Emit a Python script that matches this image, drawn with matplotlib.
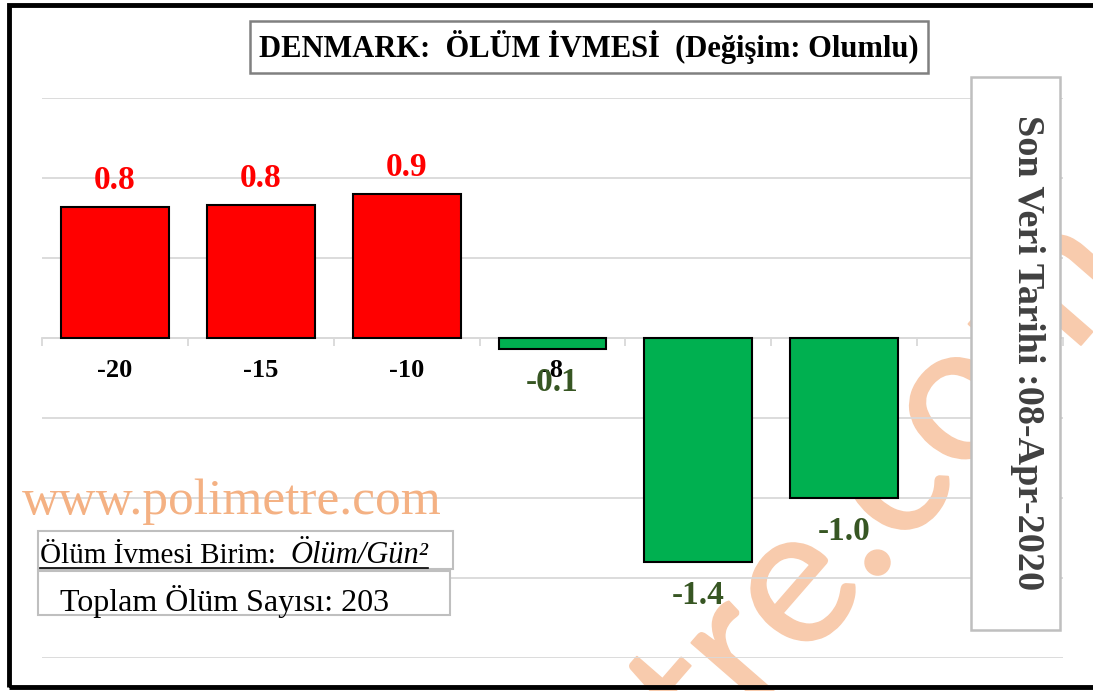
import matplotlib
matplotlib.use("Agg")
import matplotlib.pyplot as plt
import matplotlib.patheffects as pe
import numpy as np
from matplotlib.patches import Rectangle
from matplotlib.lines import Line2D

# data
categories = ["-20", "-15", "-10", "-8", "-5", "-3", ""]
values = [0.82, 0.83, 0.90, -0.07, -1.40, -1.00, np.nan]
total_deaths = 203
last_date = "08-Apr-2020"
country = "DENMARK"

W, H = 1093, 691
fig = plt.figure(figsize=(W / 100, H / 100), dpi=100)
fig.patch.set_facecolor("white")

def fx(px):
    return px / W

def fy(py):
    return 1 - py / H

serif = "Liberation Serif"

# axes placed where the gridlines sit in the picture
ax = fig.add_axes([fx(42), fy(658), fx(1063) - fx(42), fy(98) - fy(658)])
ax.set_facecolor("none")

x = np.arange(len(categories))
vals = np.array(values, dtype=float)
ok = ~np.isnan(vals)
colors = ["#ff0000" if v > 0 else "#00b050" for v in vals[ok]]
ax.bar(x[ok], vals[ok], width=0.74, color=colors, edgecolor="black",
       linewidth=1.5, zorder=3)

for xi, v in zip(x[ok], vals[ok]):
    if v > 0:
        ax.annotate(f"{v:.1f}", (xi, v), xytext=(0, 8), textcoords="offset points",
                    ha="center", va="bottom", color="#ff0000", fontsize=24,
                    fontweight="bold", family=serif, zorder=5)
    else:
        ax.annotate(f"{v:.1f}", (xi, v), xytext=(0, -13), textcoords="offset points",
                    ha="center", va="top", color="#375623", fontsize=24,
                    fontweight="bold", family=serif, zorder=5)

ax.set_xlim(-0.5, len(categories) - 0.5)
ax.set_ylim(-2.0, 1.5)
ax.set_yticks(np.arange(-2.0, 1.51, 0.5))
ax.yaxis.grid(True, color="#d9d9d9", linewidth=1.3, zorder=0)
ax.set_axisbelow(True)
ax.tick_params(axis="y", length=0, labelleft=False)

for s in ["top", "right", "left"]:
    ax.spines[s].set_visible(False)
ax.spines["bottom"].set_position(("data", 0))
ax.spines["bottom"].set_color("#d9d9d9")
ax.spines["bottom"].set_linewidth(1.3)

ax.set_xticks(x)
ax.set_xticklabels(categories, fontsize=19, fontweight="bold", family=serif)
ax.set_xticks(np.arange(-0.5, len(categories), 1.0), minor=True)
ax.tick_params(axis="x", which="major", length=0, pad=15)
ax.tick_params(axis="x", which="minor", length=6, color="#d9d9d9", width=1.3,
               direction="out")

# watermark behind the bars
wm = fig.text(fx(695), fy(705), "polimetre.com", fontsize=140, family="Lato",
              color="#f8cbad", rotation=49, ha="center", va="center",
              rotation_mode="anchor", zorder=-1)
wm.set_path_effects([pe.withStroke(linewidth=1.5, foreground="#f8cbad")])

# figure border
fig.add_artist(Rectangle((fx(9), fy(687)), 1.2, fy(5) - fy(687), transform=fig.transFigure,
                         fill=False, edgecolor="black", linewidth=3.5, zorder=10))

# title box
fig.text(fx(589), fy(47), f"{country}:  ÖLÜM İVMESİ  (Değişim: Olumlu)",
         fontsize=22, fontweight="bold", family=serif, ha="center", va="center",
         zorder=6,
         bbox=dict(boxstyle="square,pad=0.3", facecolor="white",
                   edgecolor="#808080", linewidth=1.8))

# date box on the right
fig.add_artist(Rectangle((fx(971), fy(630)), fx(1060) - fx(971), fy(77) - fy(630),
                         transform=fig.transFigure, facecolor="white",
                         edgecolor="#bfbfbf", linewidth=1.8, zorder=5))
fig.text(fx(1028), fy(353), f"Son Veri Tarihi :{last_date}", fontsize=27.5,
         fontweight="bold", family=serif, color="#404040", rotation=-90,
         ha="center", va="center", zorder=6)

# site name
fig.text(fx(22), fy(502), "www.polimetre.com", fontsize=37, family=serif,
         color="#f4b183", ha="left", va="center", zorder=6)

# unit box
fig.add_artist(Rectangle((fx(38), fy(569)), fx(453) - fx(38), fy(531) - fy(569),
                         transform=fig.transFigure, facecolor="white",
                         edgecolor="#bfbfbf", linewidth=1.5, zorder=5))
t1 = fig.text(fx(40), fy(563), "Ölüm İvmesi Birim:  ", fontsize=21, family=serif,
              ha="left", va="baseline", zorder=6)
fig.canvas.draw()
x_end = t1.get_window_extent().x1 / W
t2 = fig.text(x_end, fy(563), "Ölüm/Gün²", fontsize=22, family=serif, style="italic",
              ha="left", va="baseline", zorder=6)
fig.canvas.draw()
u_end = t2.get_window_extent().x1 / W
fig.add_artist(Line2D([fx(40), u_end], [fy(568), fy(568)], transform=fig.transFigure,
                      color="black", linewidth=1.2, zorder=6))

# total deaths box
fig.add_artist(Rectangle((fx(38), fy(615)), fx(450) - fx(38), fy(571) - fy(615),
                         transform=fig.transFigure, facecolor="white",
                         edgecolor="#bfbfbf", linewidth=1.5, zorder=5))
fig.text(fx(60), fy(602), f"Toplam Ölüm Sayısı: {total_deaths}", fontsize=23,
         family=serif, ha="left", va="center", zorder=6)

fig.savefig("out.png", dpi=100)
